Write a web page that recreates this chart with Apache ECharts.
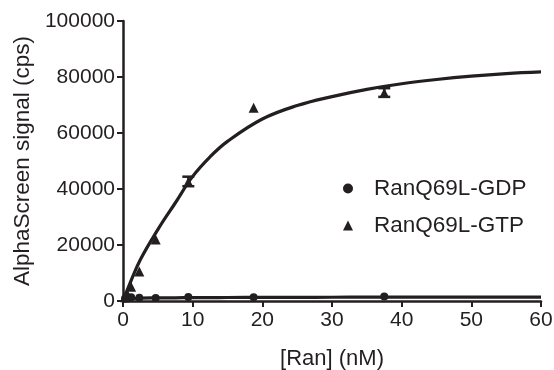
<!DOCTYPE html>
<html>
<head>
<meta charset="utf-8">
<script src="https://cdn.jsdelivr.net/npm/echarts@6/dist/echarts.min.js"></script>
<style>
html,body{margin:0;padding:0;background:#fff;}
#chart{width:554px;height:370px;}
</style>
</head>
<body>
<div id="chart"></div>
<script>
const xTicks = [0, 10, 20, 30, 40, 50, 60];
const yTicks = [0, 20000, 40000, 60000, 80000, 100000];
const concentrations = [0.29, 0.59, 1.17, 2.34, 4.69, 9.375, 18.75, 37.5];
const gdpSignal = [900, 1100, 1300, 1200, 1100, 1400, 1300, 1600];
const gtpSignal = [1300, 2600, 5100, 10500, 22000, 42500, 69000, 74300];
const gtpErrLow = [1300, 2600, 5100, 10500, 22000, 41000, 69000, 72900];
const gtpErrHigh = [1300, 2600, 5100, 10500, 22000, 44400, 69000, 76000];
const fitX = [0, 1, 2.5, 5, 7.5, 10, 12.5, 15, 20, 25, 30, 35, 40, 45, 50, 55, 60];
const gtpFit = [0, 6300, 14800, 25500, 35000, 44500, 51500, 57000, 65000, 69800, 73000, 75600, 77600, 79100, 80300, 81200, 81800];
const gdpFit = [0, 700, 1000, 1100, 1150, 1200, 1220, 1250, 1300, 1320, 1340, 1360, 1380, 1390, 1400, 1400, 1400];

const ink = '#231f20';
const font = 'Liberation Sans, Arial, Helvetica, sans-serif';

const pairs = (xs, ys) => xs.map((x, i) => [x, ys[i]]);
const errData = concentrations.map((x, i) => [x, gtpErrLow[i], gtpErrHigh[i]]);

const chart = echarts.init(document.getElementById('chart'), null, {renderer: 'canvas'});
chart.setOption({
  animation: false,
  backgroundColor: '#fff',
  grid: {left: 123, right: 13, top: 21, bottom: 69, containLabel: false, outerBoundsMode: 'none'},
  legend: {
    orient: 'vertical',
    left: 338,
    top: 172,
    itemWidth: 10,
    itemHeight: 10,
    itemGap: 14,
    textStyle: {fontFamily: font, fontSize: 22.5, color: ink, padding: [0, 0, 0, 16]},
    data: [
      {name: 'RanQ69L-GDP', icon: 'circle', itemStyle: {color: ink, opacity: 1}},
      {name: 'RanQ69L-GTP', icon: 'triangle', itemStyle: {color: ink, opacity: 1}}
    ]
  },
  xAxis: {
    type: 'value', min: 0, max: 60, interval: 10,
    name: '[Ran] (nM)', nameLocation: 'middle', nameGap: 47,
    nameTextStyle: {fontFamily: font, fontSize: 22, color: ink},
    splitLine: {show: false},
    axisLine: {onZero: false, lineStyle: {color: ink, width: 2.5}},
    axisTick: {length: 6, lineStyle: {color: ink, width: 2}},
    axisLabel: {fontFamily: font, fontSize: 21, color: ink, margin: 9,
      formatter: v => xTicks.includes(v) ? String(v) : ''}
  },
  yAxis: {
    type: 'value', min: 0, max: 100000, interval: 20000,
    name: 'AlphaScreen signal (cps)', nameLocation: 'middle', nameGap: 89,
    nameTextStyle: {fontFamily: font, fontSize: 22.5, color: ink},
    splitLine: {show: false},
    axisLine: {onZero: false, lineStyle: {color: ink, width: 2.5}},
    axisTick: {length: 6, lineStyle: {color: ink, width: 2}},
    axisLabel: {fontFamily: font, fontSize: 21, color: ink, margin: 8,
      formatter: v => yTicks.includes(v) ? String(v) : ''}
  },
  series: [
    {
      name: 'RanQ69L-GDP', type: 'scatter', symbol: 'circle', symbolSize: 8,
      itemStyle: {color: ink, opacity: 1}, data: pairs(concentrations, gdpSignal), z: 3
    },
    {
      name: 'RanQ69L-GTP', type: 'scatter', symbol: 'triangle', symbolSize: 10,
      itemStyle: {color: ink, opacity: 1}, data: pairs(concentrations, gtpSignal), z: 3
    },
    {
      name: 'gtpErr', type: 'custom', z: 4,
      data: errData,
      renderItem: function (params, api) {
        const x = api.value(0);
        const lo = api.coord([x, api.value(1)]);
        const hi = api.coord([x, api.value(2)]);
        if (Math.abs(lo[1] - hi[1]) < 1) return null;
        const w = 6;
        const st = {stroke: ink, lineWidth: 2.5};
        return {
          type: 'group',
          children: [
            {type: 'line', shape: {x1: lo[0], y1: lo[1], x2: hi[0], y2: hi[1]}, style: st},
            {type: 'line', shape: {x1: lo[0] - w, y1: lo[1], x2: lo[0] + w, y2: lo[1]}, style: st},
            {type: 'line', shape: {x1: hi[0] - w, y1: hi[1], x2: hi[0] + w, y2: hi[1]}, style: st}
          ]
        };
      }
    },
    {
      name: 'gtpFit', type: 'line', smooth: 0.4, symbol: 'none',
      lineStyle: {color: ink, width: 3.2}, data: pairs(fitX, gtpFit), z: 5
    },
    {
      name: 'gdpFit', type: 'line', smooth: 0.4, symbol: 'none',
      lineStyle: {color: ink, width: 3.2}, data: pairs(fitX, gdpFit), z: 5
    }
  ]
});
</script>
</body>
</html>
